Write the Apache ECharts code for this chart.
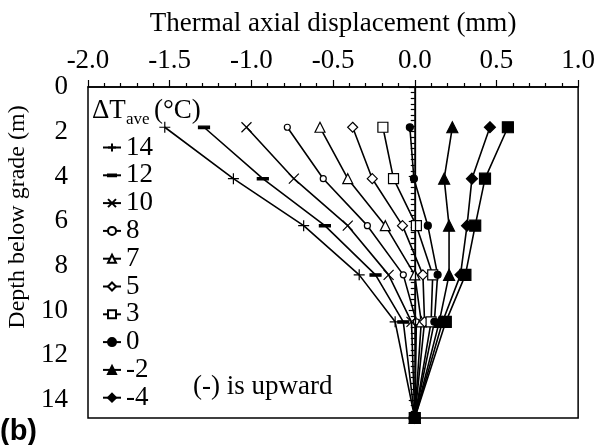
<!DOCTYPE html>
<html>
<head>
<meta charset="utf-8">
<script src="https://cdn.jsdelivr.net/npm/echarts@6/dist/echarts.min.js"></script>
<style>html,body{margin:0;padding:0;background:#fff;}#c{width:598px;height:445px;}</style>
</head>
<body>
<div id="c"></div>
<script>
const depths = [1.8, 4.1, 6.2, 8.4, 10.5, 14.8];
const seriesNames = ['14', '12', '10', '8', '7', '5', '3', '0', '-2', '-4', '-6'];
const disp14 = [-1.53, -1.11, -0.68, -0.34, -0.12, 0.0];
const disp12 = [-1.29, -0.93, -0.55, -0.24, -0.07, 0.0];
const disp10 = [-1.03, -0.74, -0.41, -0.16, -0.02, 0.0];
const disp8 = [-0.78, -0.56, -0.29, -0.07, 0.01, 0.0];
const disp7 = [-0.58, -0.41, -0.18, 0.0, 0.04, 0.0];
const disp5 = [-0.38, -0.26, -0.075, 0.05, 0.06, 0.0];
const disp3 = [-0.195, -0.13, 0.01, 0.11, 0.10, 0.0];
const disp0 = [-0.03, -0.005, 0.08, 0.14, 0.12, 0.0];
const dispM2 = [0.23, 0.18, 0.21, 0.21, 0.15, 0.0];
const dispM4 = [0.46, 0.35, 0.32, 0.28, 0.17, 0.0];
const dispM6 = [0.57, 0.43, 0.37, 0.31, 0.19, 0.0];
const legendNames = ['14', '12', '10', '8', '7', '5', '3', '0', '-2', '-4'];

const allDisp = [disp14, disp12, disp10, disp8, disp7, disp5, disp3, disp0, dispM2, dispM4, dispM6];
const FONT = 'Liberation Serif';
const FS = 27;

const symbolDefs = [
  {symbol: 'path://M0,5L10,5M5,0L5,10', size: 11, fill: 'none'},
  {symbol: 'path://M5,0L5,0M0,4L10,4L10,6.2L0,6.2ZM5,10L5,10', size: 11, fill: '#000'},
  {symbol: 'path://M0,0L10,10M0,10L10,0', size: 10, fill: 'none'},
  {symbol: 'circle', size: 6, fill: '#fff'},
  {symbol: 'triangle', size: 10, fill: '#fff'},
  {symbol: 'diamond', size: 10, fill: '#fff'},
  {symbol: 'rect', size: 10, fill: '#fff'},
  {symbol: 'circle', size: 7, fill: '#000'},
  {symbol: 'triangle', size: 11, fill: '#000'},
  {symbol: 'diamond', size: 11, fill: '#000'},
  {symbol: 'rect', size: 11, fill: '#000'}
];

const series = allDisp.map((arr, i) => {
  const s = {
    name: seriesNames[i],
    type: 'line',
    data: arr.map((v, j) => [v, depths[j]]),
    symbol: symbolDefs[i].symbol,
    symbolSize: symbolDefs[i].size,
    showAllSymbol: true,
    lineStyle: {color: '#000', width: 1.6},
    itemStyle: {color: symbolDefs[i].fill, borderColor: '#000', borderWidth: 1.2},
    emphasis: {disabled: true},
    animation: false,
    z: 3
  };
  if (i === 0) {
    s.markLine = {
      silent: true,
      symbol: ['none', 'none'],
      label: {show: false},
      lineStyle: {color: '#000', type: 'solid', width: 1.3},
      data: [{xAxis: 0}],
      animation: false
    };
  }
  return s;
});

const chart = echarts.init(document.getElementById('c'), null, {renderer: 'canvas'});
chart.setOption({
  backgroundColor: '#fff',
  animation: false,
  textStyle: {fontFamily: FONT, color: '#000'},
  grid: {left: 88, right: 19, top: 87, bottom: 27, show: true, borderColor: '#000', borderWidth: 1.5, backgroundColor: 'transparent'},
  xAxis: {
    type: 'value', position: 'top', min: -2, max: 1, interval: 0.5,
    name: 'Thermal axial displacement (mm)', nameLocation: 'middle', nameGap: 50,
    nameTextStyle: {fontFamily: FONT, fontSize: FS, color: '#000'},
    axisLine: {show: true, lineStyle: {color: '#000', width: 1.5}},
    axisTick: {show: true, inside: false, length: 7, lineStyle: {color: '#000', width: 1.2}},
    minorTick: {show: true, splitNumber: 5, length: 4, lineStyle: {color: '#000', width: 1.2}},
    splitLine: {show: false},
    axisLabel: {fontFamily: FONT, fontSize: FS, color: '#000', margin: 13, formatter: v => v.toFixed(1)}
  },
  yAxis: {
    type: 'value', inverse: true, min: 0, max: 14.8, interval: 2,
    axisLine: {show: true, lineStyle: {color: '#000', width: 1.5}},
    axisTick: {show: true, inside: false, length: 6, lineStyle: {color: '#000', width: 1.2}},
    minorTick: {show: true, splitNumber: 8, length: 4, lineStyle: {color: '#000', width: 1.2}},
    splitLine: {show: false},
    axisLabel: {fontFamily: FONT, fontSize: FS, color: '#000', margin: 20, showMaxLabel: false,
      formatter: v => (Math.abs(v - Math.round(v)) < 1e-6 ? String(Math.round(v)) : '')}
  },
  legend: {
    data: legendNames,
    orient: 'vertical', left: 102, top: 134, padding: 0,
    itemWidth: 18, itemHeight: 10, itemGap: 0.8,
    textStyle: {fontFamily: FONT, fontSize: FS, color: '#000', lineHeight: 27},
    selectedMode: false
  },
  graphic: [
    {type: 'text', x: 92, y: 111, style: {text: 'ΔT', font: FS + 'px "Liberation Serif"', fill: '#000', verticalAlign: 'middle'}},
    {type: 'text', x: 126, y: 120, style: {text: 'ave', font: '17px "Liberation Serif"', fill: '#000', verticalAlign: 'middle'}},
    {type: 'text', x: 154, y: 111, style: {text: '(°C)', font: FS + 'px "Liberation Serif"', fill: '#000', verticalAlign: 'middle'}},
    {type: 'text', x: 193, y: 387, style: {text: '(-) is upward', font: FS + 'px "Liberation Serif"', fill: '#000', verticalAlign: 'middle'}},
    {type: 'text', x: 0, y: 432, style: {text: '(b)', font: 'bold 29px "Liberation Sans"', fill: '#000', verticalAlign: 'middle'}},
    {type: 'text', x: 6, y: 217, rotation: Math.PI / 2,
      style: {text: 'Depth below grade (m)', font: '24px "Liberation Serif"', fill: '#000', align: 'center', verticalAlign: 'top'}}
  ],
  series: series
});
</script>
</body>
</html>
